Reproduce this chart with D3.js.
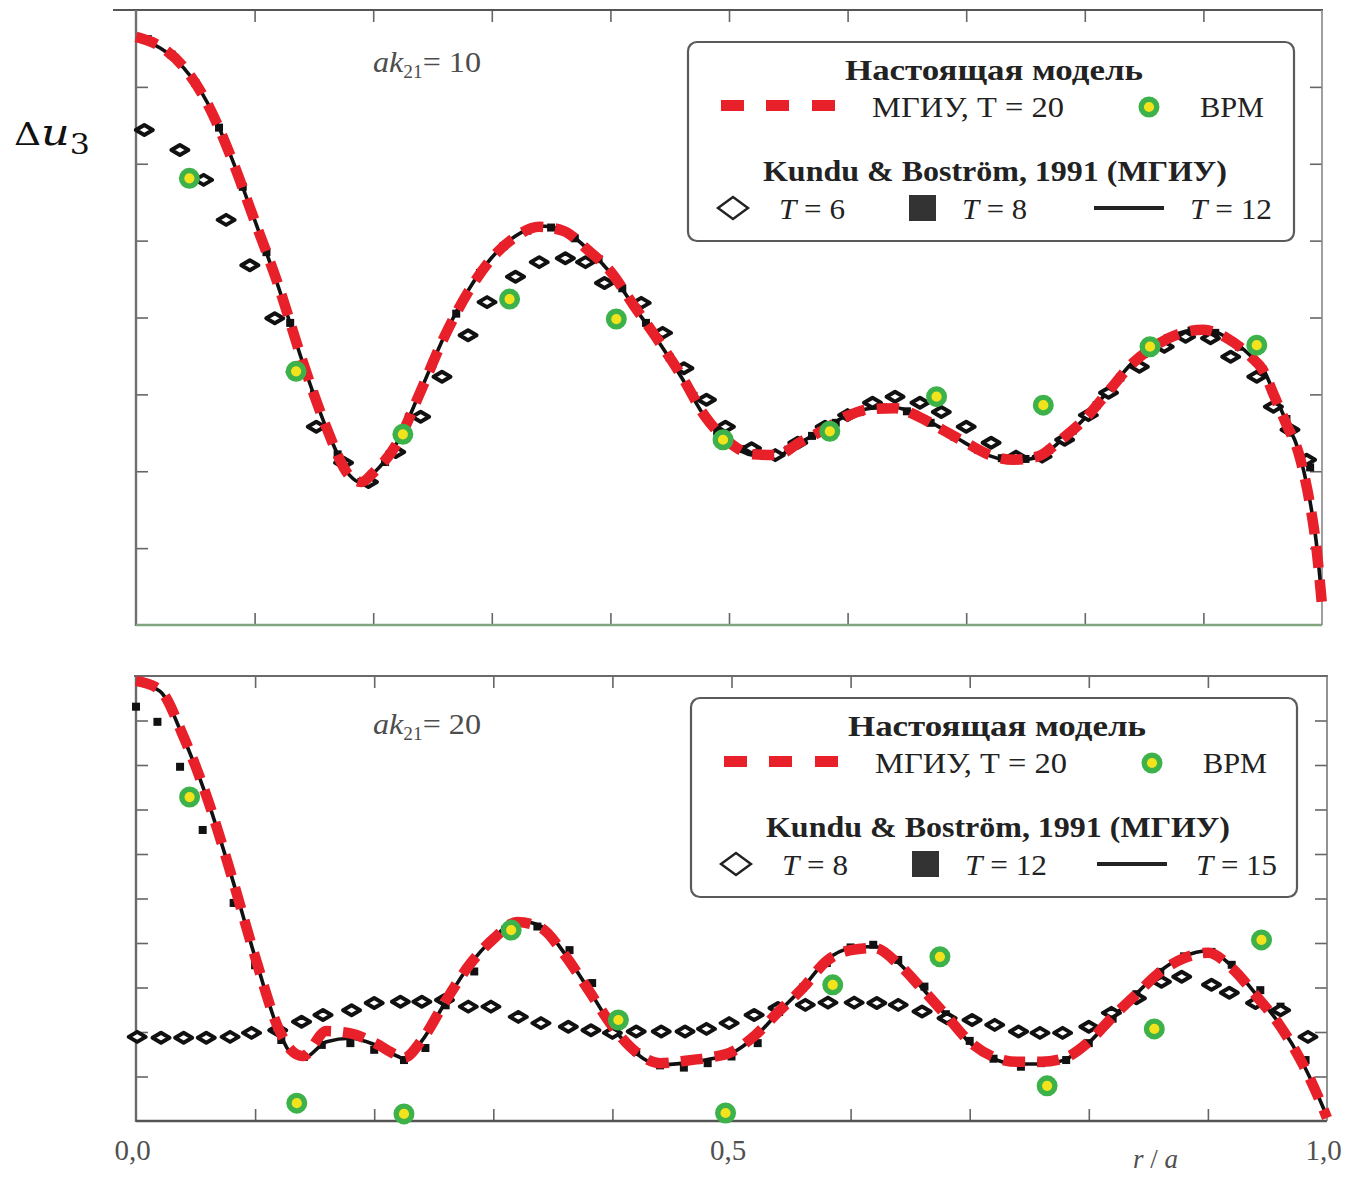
<!DOCTYPE html>
<html>
<head>
<meta charset="utf-8">
<script src="https://cdn.jsdelivr.net/npm/d3@7"></script>
<style>
  body { margin: 0; background: #fff; }
  svg { display: block; }
</style>
</head>
<body>
<svg id="chart" width="1346" height="1177"></svg>
<script>
// ---------- data: upper panel, ak21 = 10 ----------
const rTop = [0, 0.02, 0.04, 0.06, 0.08, 0.10, 0.12, 0.14, 0.16, 0.18, 0.19, 0.20, 0.22, 0.24, 0.26, 0.28,
  0.30, 0.32, 0.34, 0.36, 0.38, 0.40, 0.42, 0.44, 0.46, 0.48, 0.50, 0.52, 0.54, 0.56, 0.58, 0.60,
  0.62, 0.64, 0.66, 0.68, 0.70, 0.72, 0.74, 0.76, 0.78, 0.80, 0.82, 0.84, 0.86, 0.88, 0.90, 0.92,
  0.94, 0.95, 0.96, 0.97, 0.98, 0.985, 0.99, 0.995, 1.0];
// present model, МГИУ T = 20
const mgiuTop = [7.65, 7.53, 7.26, 6.79, 6.09, 5.26, 4.42, 3.45, 2.59, 1.94, 1.86, 1.98, 2.36, 3.04, 3.75, 4.33,
  4.77, 5.05, 5.18, 5.13, 4.89, 4.60, 4.15, 3.71, 3.24, 2.71, 2.38, 2.22, 2.21, 2.38, 2.54, 2.72,
  2.81, 2.82, 2.71, 2.54, 2.37, 2.21, 2.15, 2.19, 2.41, 2.68, 3.04, 3.40, 3.64, 3.79, 3.84, 3.73,
  3.49, 3.32, 2.97, 2.61, 2.25, 1.95, 1.56, 1.04, 0.26];
// Kundu & Boström, T = 12 (solid)
const t12Top = [7.62, 7.51, 7.25, 6.80, 6.10, 5.27, 4.40, 3.44, 2.58, 1.95, 1.85, 1.97, 2.37, 3.05, 3.76, 4.35,
  4.78, 5.06, 5.19, 5.14, 4.90, 4.58, 4.14, 3.70, 3.22, 2.70, 2.37, 2.21, 2.20, 2.37, 2.55, 2.73,
  2.82, 2.83, 2.72, 2.55, 2.36, 2.20, 2.14, 2.18, 2.40, 2.69, 3.05, 3.41, 3.65, 3.80, 3.85, 3.74,
  3.50, 3.34, 3.00, 2.64, 2.28, 1.98, 1.60, 1.10, 0.32];
// Kundu & Boström, T = 8 (squares)
const t8TopR = [0.01, 0.03, 0.05, 0.07, 0.09, 0.11, 0.13, 0.15, 0.17, 0.19, 0.21, 0.23, 0.25, 0.27, 0.29,
  0.31, 0.33, 0.35, 0.37, 0.39, 0.41, 0.43, 0.45, 0.47, 0.49, 0.51, 0.53, 0.55, 0.57, 0.59, 0.61,
  0.63, 0.65, 0.67, 0.69, 0.71, 0.73, 0.75, 0.77, 0.79, 0.81, 0.83, 0.85, 0.87, 0.89, 0.91, 0.93,
  0.95, 0.97, 0.99];
const t8TopV = [7.62, 7.42, 7.05, 6.47, 5.70, 4.85, 3.93, 3.00, 2.22, 1.86, 2.12, 2.70, 3.40, 4.05, 4.58,
  4.93, 5.13, 5.17, 5.03, 4.76, 4.38, 3.93, 3.48, 2.98, 2.52, 2.29, 2.20, 2.28, 2.46, 2.63, 2.77,
  2.83, 2.78, 2.63, 2.45, 2.28, 2.17, 2.16, 2.28, 2.53, 2.86, 3.22, 3.53, 3.73, 3.83, 3.80, 3.62,
  3.32, 2.68, 2.05];
// Kundu & Boström, T = 6 (diamonds)
const t6TopR = [0.007, 0.037, 0.057, 0.076, 0.096, 0.117, 0.135, 0.152, 0.175, 0.196, 0.219, 0.240, 0.258,
  0.280, 0.296, 0.320, 0.340, 0.362, 0.379, 0.395, 0.426, 0.444, 0.462, 0.481, 0.497, 0.519, 0.539,
  0.558, 0.581, 0.600, 0.621, 0.640, 0.661, 0.679, 0.700, 0.721, 0.742, 0.764, 0.783, 0.803, 0.820,
  0.846, 0.867, 0.885, 0.906, 0.923, 0.945, 0.959, 0.973, 0.987];
const t6TopV = [6.44, 6.18, 5.79, 5.27, 4.68, 3.99, 3.29, 2.58, 2.11, 1.86, 2.25, 2.71, 3.23,
  3.77, 4.20, 4.53, 4.72, 4.77, 4.72, 4.45, 4.19, 3.80, 3.34, 2.93, 2.58, 2.30, 2.21,
  2.37, 2.58, 2.73, 2.89, 2.97, 2.89, 2.77, 2.58, 2.37, 2.19, 2.19, 2.41, 2.73, 3.02,
  3.36, 3.62, 3.75, 3.73, 3.49, 3.23, 2.84, 2.54, 2.15];
// ВРМ points (both panels share the same r/a positions)
const bpmR = [0.045, 0.135, 0.225, 0.315, 0.405, 0.495, 0.585, 0.675, 0.765, 0.855, 0.945];
const bpmTopV = [5.81, 3.30, 2.48, 4.24, 3.98, 2.41, 2.52, 2.97, 2.86, 3.62, 3.64];

// ---------- data: lower panel, ak21 = 20 ----------
const rBot = [0, 0.02, 0.04, 0.06, 0.08, 0.10, 0.12, 0.13, 0.14, 0.16, 0.18, 0.20, 0.22, 0.225, 0.24, 0.26,
  0.28, 0.30, 0.32, 0.34, 0.36, 0.38, 0.40, 0.42, 0.44, 0.46, 0.48, 0.50, 0.52, 0.54, 0.56, 0.58,
  0.60, 0.62, 0.64, 0.66, 0.68, 0.70, 0.72, 0.74, 0.76, 0.78, 0.80, 0.82, 0.84, 0.86, 0.88, 0.90,
  0.92, 0.94, 0.96, 0.98, 0.99, 1.0];
const mgiuBot = [9.89, 9.69, 8.63, 7.24, 5.53, 3.69, 2.06, 1.60, 1.46, 2.02, 1.97, 1.76, 1.47, 1.42, 1.82, 2.70,
  3.51, 4.09, 4.47, 4.34, 3.73, 2.94, 2.13, 1.55, 1.30, 1.35, 1.42, 1.55, 1.93, 2.47, 2.99, 3.60,
  3.84, 3.89, 3.53, 2.97, 2.38, 1.78, 1.44, 1.33, 1.33, 1.42, 1.78, 2.34, 2.85, 3.35, 3.66, 3.78,
  3.44, 2.83, 2.16, 1.26, 0.70, 0.07];
// Kundu & Boström, T = 15 (solid)
const t15Bot = [9.86, 9.66, 8.60, 7.22, 5.52, 3.68, 2.02, 1.52, 1.40, 1.78, 1.86, 1.72, 1.45, 1.40, 1.80, 2.68,
  3.50, 4.10, 4.50, 4.38, 3.76, 2.96, 2.12, 1.52, 1.26, 1.30, 1.38, 1.52, 1.90, 2.46, 3.00, 3.62,
  3.88, 3.92, 3.56, 2.99, 2.38, 1.76, 1.40, 1.28, 1.28, 1.38, 1.76, 2.33, 2.86, 3.37, 3.70, 3.82,
  3.48, 2.86, 2.18, 1.28, 0.72, 0.10];
// Kundu & Boström, T = 12 (squares)
const t12BotR = [0.000, 0.018, 0.037, 0.056, 0.082, 0.100, 0.122, 0.141, 0.156, 0.180, 0.200, 0.225, 0.243,
  0.260, 0.284, 0.310, 0.337, 0.364, 0.383, 0.400, 0.420, 0.440, 0.460, 0.480, 0.500, 0.522, 0.540,
  0.560, 0.580, 0.600, 0.619, 0.640, 0.662, 0.680, 0.700, 0.720, 0.743, 0.760, 0.781, 0.800, 0.820,
  0.840, 0.860, 0.880, 0.903, 0.920, 0.944, 0.961, 0.982];
const t12BotV = [9.31, 8.97, 7.96, 6.54, 4.90, 3.50, 1.82, 1.44, 1.71, 1.75, 1.60, 1.37, 1.64,
  2.60, 3.36, 4.30, 4.37, 3.84, 3.10, 2.20, 1.55, 1.25, 1.20, 1.30, 1.45, 1.75, 2.45,
  3.00, 3.55, 3.90, 3.96, 3.62, 3.02, 2.40, 1.80, 1.40, 1.22, 1.30, 1.37, 1.75, 2.30,
  2.85, 3.35, 3.70, 3.80, 3.51, 2.94, 2.57, 1.37];
// Kundu & Boström, T = 8 (diamonds)
const t8BotR = [0.001, 0.021, 0.040, 0.059, 0.079, 0.097, 0.119, 0.139, 0.157, 0.181, 0.200, 0.222, 0.240,
  0.259, 0.279, 0.298, 0.321, 0.340, 0.363, 0.382, 0.400, 0.420, 0.441, 0.461, 0.479, 0.498, 0.519,
  0.539, 0.562, 0.581, 0.603, 0.622, 0.640, 0.660, 0.681, 0.702, 0.721, 0.741, 0.759, 0.778, 0.800,
  0.819, 0.840, 0.861, 0.878, 0.903, 0.918, 0.940, 0.961, 0.984];
const t8BotV = [1.89, 1.87, 1.87, 1.87, 1.89, 1.98, 2.04, 2.23, 2.38, 2.49, 2.65, 2.68, 2.68,
  2.72, 2.57, 2.57, 2.34, 2.20, 2.12, 2.04, 1.98, 2.01, 2.01, 2.01, 2.07, 2.20, 2.38,
  2.54, 2.61, 2.66, 2.66, 2.65, 2.61, 2.46, 2.31, 2.27, 2.16, 2.01, 1.98, 1.98, 2.12,
  2.43, 2.76, 3.13, 3.24, 3.06, 2.88, 2.65, 2.49, 1.89];
const bpmBotV = [7.28, 0.40, 0.16, 4.29, 2.27, 0.18, 3.06, 3.69, 0.79, 2.07, 4.07];

// axis tick labels (r/a) and inner tick positions
const xLabelValues = [0, 0.5, 1.0];
const innerTicksX = [0.1, 0.2, 0.3, 0.4, 0.5, 0.6, 0.7, 0.8, 0.9];

// ---------- drawing ----------
const svg = d3.select("#chart");
const SERIF = "'Liberation Serif', 'Times New Roman', serif";
const RED = "#e8202a", GREEN = "#3db24a", YELLOW = "#f3e31c";

const xTop = d3.scaleLinear().domain([0, 1]).range([136, 1322]);
const yTop = d3.scaleLinear().domain([0, 8]).range([625, 10]);
const xBot = d3.scaleLinear().domain([0, 1]).range([136, 1327]);
const yBot = d3.scaleLinear().domain([0, 10]).range([1121, 676]);

const locale = d3.formatLocale({decimal: ",", thousands: "\u00a0", grouping: [3], currency: ["", ""]});
const fmtR = locale.format(".1f");

function styleTicks(g) {
  g.select(".domain").remove();
  g.selectAll(".tick line").attr("stroke", "#666").attr("stroke-width", 1.6);
}

function frame(x, y, colors, yTicks) {
  const [x0, x1] = x.range(), [y0, y1] = y.range();
  const g = svg.append("g");
  g.append("g").attr("transform", `translate(0,${y1})`)
    .call(d3.axisTop(x).tickValues(innerTicksX).tickSize(-12).tickFormat("")).call(styleTicks);
  g.append("g").attr("transform", `translate(0,${y0})`)
    .call(d3.axisBottom(x).tickValues(innerTicksX).tickSize(-12).tickFormat("")).call(styleTicks);
  g.append("g").attr("transform", `translate(${x0},0)`)
    .call(d3.axisLeft(y).tickValues(yTicks).tickSize(-12).tickFormat("")).call(styleTicks);
  g.append("g").attr("transform", `translate(${x1},0)`)
    .call(d3.axisRight(y).tickValues(yTicks).tickSize(-12).tickFormat("")).call(styleTicks);
  g.append("line").attr("x1", colors.topStart).attr("x2", x1 + 1).attr("y1", y1).attr("y2", y1)
    .attr("stroke", colors.top).attr("stroke-width", 2);
  g.append("line").attr("x1", x0).attr("x2", x0).attr("y1", y1).attr("y2", y0 + 1)
    .attr("stroke", colors.left).attr("stroke-width", 2.4);
  g.append("line").attr("x1", x0).attr("x2", x1).attr("y1", y0).attr("y2", y0)
    .attr("stroke", colors.bottom).attr("stroke-width", 2.4);
  g.append("line").attr("x1", x1).attr("x2", x1).attr("y1", y1).attr("y2", y0)
    .attr("stroke", colors.right).attr("stroke-width", 1.6);
}

function series(x, y, d) {
  const g = svg.append("g");
  const line = d3.line().x(p => x(p[0])).y(p => y(p[1])).curve(d3.curveMonotoneX);
  // solid reference line
  g.append("path").datum(d3.zip(d.rLine, d.vLine)).attr("d", line)
    .attr("fill", "none").attr("stroke", "#111").attr("stroke-width", 3.6);
  // filled squares
  g.selectAll("rect.sq").data(d3.zip(d.rSq, d.vSq)).join("rect").attr("class", "sq")
    .attr("x", p => x(p[0]) - 4).attr("y", p => y(p[1]) - 4)
    .attr("width", 8).attr("height", 8).attr("fill", "#111");
  // hollow diamonds
  g.selectAll("path.dm").data(d3.zip(d.rDm, d.vDm)).join("path").attr("class", "dm")
    .attr("transform", p => `translate(${x(p[0])},${y(p[1])})`)
    .attr("d", "M-8.5,0L0,-5L8.5,0L0,5Z")
    .attr("fill", "#fff").attr("stroke", "#111").attr("stroke-width", 4)
    .attr("stroke-linejoin", "round");
  // present model, dashed
  g.append("path").datum(d3.zip(d.rRed, d.vRed)).attr("d", line)
    .attr("fill", "none").attr("stroke", RED).attr("stroke-width", 10.5)
    .attr("stroke-dasharray", "22,12");
  // ВРМ
  g.selectAll("circle").data(d3.zip(bpmR, d.vBpm)).join("circle")
    .attr("cx", p => x(p[0])).attr("cy", p => y(p[1])).attr("r", 7.8)
    .attr("fill", YELLOW).attr("stroke", GREEN).attr("stroke-width", 5.4);
}

function fit(sel, w) {
  sel.attr("textLength", w).attr("lengthAdjust", "spacingAndGlyphs");
  return sel;
}

function legend(dx, dy, tLabels, tWidths, tX) {
  const g = svg.append("g").attr("transform", `translate(${dx},${dy})`)
    .attr("font-family", SERIF).attr("fill", "#222");
  g.append("rect").attr("x", 688).attr("y", 42).attr("width", 606).attr("height", 199).attr("rx", 9)
    .attr("fill", "#fff").attr("stroke", "#5a5a5a").attr("stroke-width", 2.2);
  fit(g.append("text").attr("x", 845).attr("y", 80).attr("font-size", 29).attr("font-weight", "bold")
    .text("Настоящая модель"), 298);
  g.selectAll("rect.rd").data([721, 766, 812]).join("rect").attr("class", "rd")
    .attr("x", d => d).attr("y", 100).attr("width", 23).attr("height", 11).attr("fill", RED);
  fit(g.append("text").attr("x", 872).attr("y", 117).attr("font-size", 29).text("МГИУ, Т = 20"), 192);
  g.append("circle").attr("cx", 1149).attr("cy", 107).attr("r", 7.8)
    .attr("fill", YELLOW).attr("stroke", GREEN).attr("stroke-width", 5.4);
  fit(g.append("text").attr("x", 1200).attr("y", 117).attr("font-size", 29).text("ВРМ"), 64);
  fit(g.append("text").attr("x", 763).attr("y", 181).attr("font-size", 29).attr("font-weight", "bold")
    .text("Kundu & Boström, 1991 (МГИУ)"), 464);
  g.append("path").attr("transform", "translate(733,208)").attr("d", "M-15,0L0,-11L15,0L0,11Z")
    .attr("fill", "#fff").attr("stroke", "#222").attr("stroke-width", 2.4);
  g.append("rect").attr("x", 909).attr("y", 195).attr("width", 27).attr("height", 26).attr("fill", "#333");
  g.append("line").attr("x1", 1094).attr("x2", 1164).attr("y1", 208).attr("y2", 208)
    .attr("stroke", "#222").attr("stroke-width", 4);
  tLabels.forEach((t, i) => {
    const tx = g.append("text").attr("x", tX[i]).attr("y", 219).attr("font-size", 29);
    tx.append("tspan").attr("font-style", "italic").text("T");
    tx.append("tspan").text(" = " + t);
    fit(tx, tWidths[i]);
  });
}

function akLabel(y0, val) {
  const t = svg.append("text").attr("x", 373).attr("y", y0).attr("font-family", SERIF)
    .attr("fill", "#4d4d4d").attr("font-size", 30);
  t.append("tspan").attr("font-style", "italic").text("ak");
  t.append("tspan").attr("font-size", 18).attr("dy", 6).text("21");
  t.append("tspan").attr("dy", -6).text("= " + val);
  fit(t, 108);
}

// frames and ticks
frame(xTop, yTop, {top: "#555", left: "#707070", bottom: "#7fa67f", right: "#888", topStart: 113}, d3.range(1, 8));
frame(xBot, yBot, {top: "#6a6a6a", left: "#6a6a6a", bottom: "#555", right: "#777", topStart: 134}, d3.range(1, 10));

// curves and markers
series(xTop, yTop, {
  rLine: rTop, vLine: t12Top, rSq: t8TopR, vSq: t8TopV, rDm: t6TopR, vDm: t6TopV,
  rRed: rTop, vRed: mgiuTop, vBpm: bpmTopV
});
series(xBot, yBot, {
  rLine: rBot, vLine: t15Bot, rSq: t12BotR, vSq: t12BotV, rDm: t8BotR, vDm: t8BotV,
  rRed: rBot, vRed: mgiuBot, vBpm: bpmBotV
});

// legends
legend(0, 0, ["6", "8", "12"], [66, 65, 82], [779, 962, 1190]);
legend(3, 656, ["8", "12", "15"], [66, 82, 81], [779, 962, 1193]);

// panel annotations
akLabel(72, 10);
akLabel(734, 20);

// x tick labels
svg.append("g").attr("transform", `translate(-4,${yBot.range()[0]})`)
  .call(d3.axisBottom(xBot).tickValues(xLabelValues).tickSize(0).tickPadding(18).tickFormat(fmtR))
  .call(g => g.select(".domain").remove())
  .call(g => g.selectAll("text").attr("font-family", SERIF).attr("font-size", 29).attr("fill", "#505050"));

// axis titles
const ra = svg.append("text").attr("x", 1133).attr("y", 1168).attr("font-family", SERIF)
  .attr("font-size", 27).attr("fill", "#505050");
ra.append("tspan").attr("font-style", "italic").text("r");
ra.append("tspan").text(" / ");
ra.append("tspan").attr("font-style", "italic").text("a");

const du = svg.append("text").attr("x", 14).attr("y", 145).attr("font-family", "'DejaVu Serif', serif")
  .attr("fill", "#111");
du.append("tspan").attr("font-size", 32).text("Δ");
du.append("tspan").attr("font-size", 38).attr("font-style", "italic").text("u");
du.append("tspan").attr("font-size", 27).attr("dy", 9).text("3");
fit(du, 76);
</script>
</body>
</html>
